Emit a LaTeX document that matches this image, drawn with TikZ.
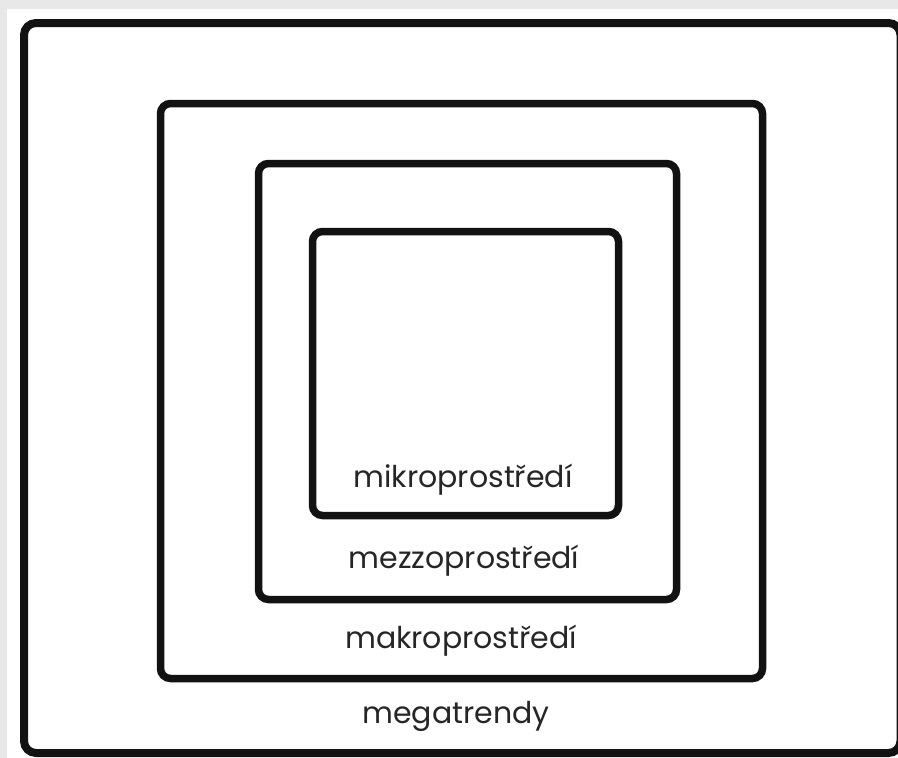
\documentclass[tikz,border=0pt]{standalone}
\usepackage{fontspec}
\setmainfont{Poppins}
\begin{document}
\begin{tikzpicture}[x=1pt,y=-1pt,
  frame/.style={draw=black!93, line width=7.5pt, rounded corners=10pt},
  lbl/.style={anchor=base, text=black!85, font=\fontsize{30}{36}\selectfont, inner sep=0pt}]
  % canvas: grey margin with white drawing area
  \fill[black!9] (0,0) rectangle (898,758);
  \fill[white] (7,9) rectangle (898,758);
  \useasboundingbox (0,0) rectangle (898,758);
  % nested frames, outermost first
  \begin{scope}
    \clip (0,0) rectangle (898,758);
    \draw[frame, line width=8pt, rounded corners=12pt] (24,23) rectangle (900.5,753);
  \end{scope}
  \draw[frame] (160.5,103.5) rectangle (762.5,678.5);
  \draw[frame] (258.5,163.5) rectangle (676.5,599.5);
  \draw[frame] (312.5,231.5) rectangle (618.5,515.5);
  % labels
  \node[lbl] (mikro) at (463,487) {mikroprostředí};
  \node[lbl] (mezzo) at (464,568) {mezzoprostředí};
  \node[lbl] (makro) at (461,648) {makroprostředí};
  \node[lbl] (mega) at (456,723) {megatrendy};
\end{tikzpicture}
\end{document}
